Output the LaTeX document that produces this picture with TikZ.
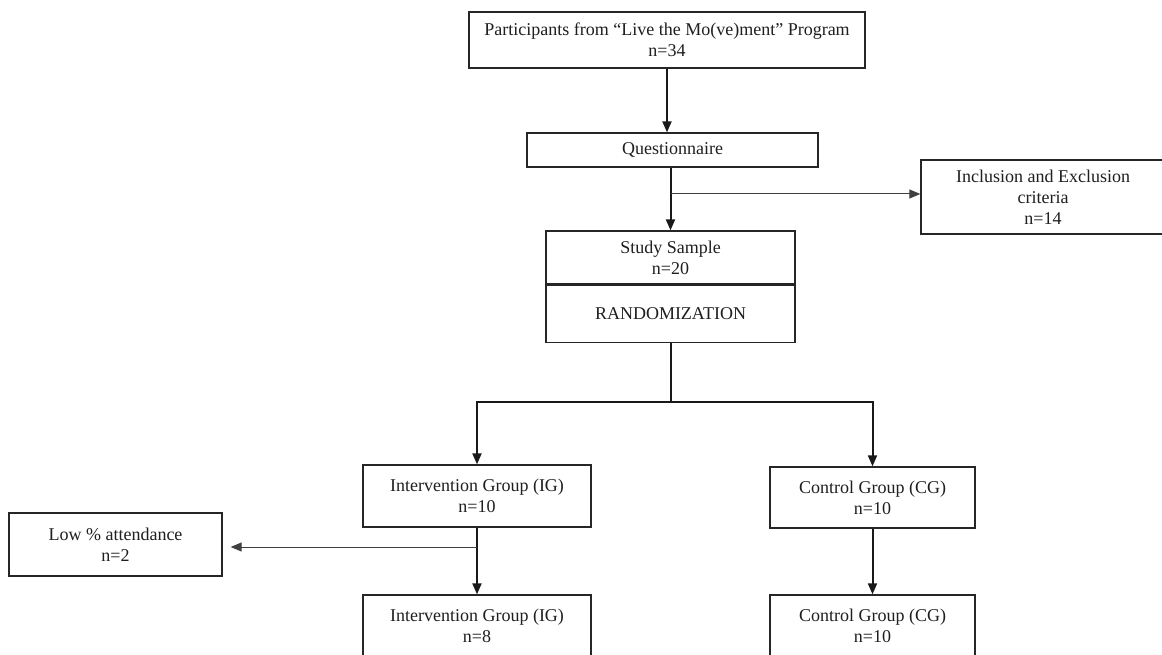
\documentclass[tikz,border=0pt]{standalone}
\usepackage{fontspec}
\setmainfont{Liberation Serif}
\usetikzlibrary{arrows.meta}
\begin{document}
\begin{tikzpicture}[x=1pt,y=-1pt,
  box/.style={draw=black!85, line width=1.3pt, align=center, inner sep=0pt,
    font=\fontsize{18}{21}\selectfont, text=black!88},
  main/.style={line width=2pt, draw=black!90, -{Triangle[length=11pt,width=9pt]}},
  side/.style={line width=1pt, draw=black!75, -{Triangle[length=11pt,width=9pt]}},
  plain/.style={line width=2pt, draw=black!90}]
\useasboundingbox (0,0) rectangle (1162,655);
\fill[white] (0,0) rectangle (1162,655);

\node[box, minimum width=396pt, minimum height=56pt] (top) at (667,40)
  {Participants from “Live the Mo(ve)ment” Program\\n=34};
\node[box, minimum width=291pt, minimum height=34pt] (quest) at (672.5,150)
  {Questionnaire};
\node[box, minimum width=244pt, minimum height=74pt] (incl) at (1043,197)
  {Inclusion and Exclusion\\criteria\\n=14};
\node[box, minimum width=249pt, minimum height=53pt] (studyA) at (670.5,257.5)
  {Study Sample\\n=20};
\node[box, minimum width=249pt, minimum height=57pt, anchor=north] (studyB) at (studyA.south)
  {RANDOMIZATION};
\node[box, minimum width=228pt, minimum height=62pt] (IG1) at (477,496)
  {Intervention Group (IG)\\n=10};
\node[box, minimum width=205pt, minimum height=61pt] (CG1) at (872.5,497.5)
  {Control Group (CG)\\n=10};
\node[box, minimum width=213pt, minimum height=63pt] (low) at (115.5,544.5)
  {Low \% attendance\\n=2};
\node[box, minimum width=228pt, minimum height=62pt] (IG2) at (477,626)
  {Intervention Group (IG)\\n=8};
\node[box, minimum width=205pt, minimum height=62pt] (CG2) at (872.5,626)
  {Control Group (CG)\\n=10};

\coordinate (b1) at (670.5,194);
\coordinate (split) at (670.5,402);
\coordinate (b2) at (477,547);

\draw[main] (top.south) -- (top.south |- quest.north);
\draw[main] (quest.south -| studyA.north) -- (studyA.north);
\draw[side] (b1) -- (b1 -| incl.west);
\draw[plain] (studyB.south) -- (split);
\draw[main] (split) -| (IG1.north);
\draw[main] (split) -| (CG1.north);
\draw[main] (IG1.south) -- (IG2.north);
\draw[side, shorten >=8pt] (b2) -- (b2 -| low.east);
\draw[main] (CG1.south) -- (CG2.north);
\end{tikzpicture}
\end{document}
